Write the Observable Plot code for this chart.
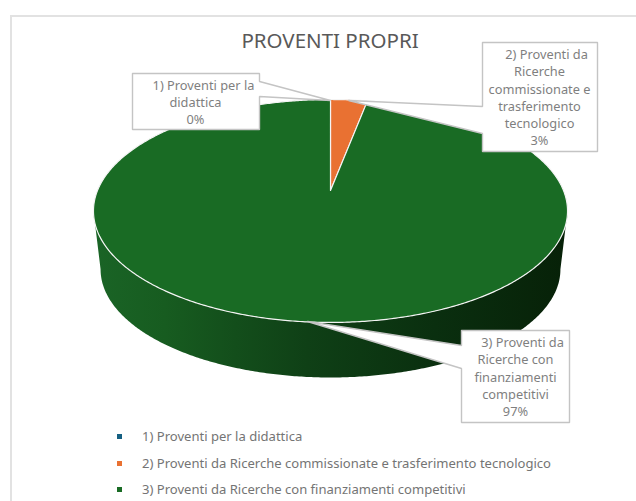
<!DOCTYPE html>
<html><head><meta charset="utf-8">
<script src="https://cdn.jsdelivr.net/npm/d3@7"></script>
<script src="https://cdn.jsdelivr.net/npm/@observablehq/plot@0.6"></script>
<style>
html,body{margin:0;padding:0;background:#fff;width:636px;height:501px;overflow:hidden}
#frame{position:absolute;left:10px;top:15px;right:-4px;bottom:-4px;border:2px solid #e2e2e2}
#wrap{position:relative;width:636px;height:501px;font-family:"Noto Sans",sans-serif}
#title{position:absolute;left:0;width:660px;top:27px;text-align:center;font-size:20.5px;line-height:26px;color:#595959}
#chart{position:absolute;left:0;top:40px}
#legend{position:absolute;left:0;top:426px;font-size:13.05px;color:#747474}
.row{position:absolute;left:117px;height:18px;line-height:18px;white-space:nowrap}
.row i{position:absolute;left:0;top:7px;width:5px;height:5px}
.row span{position:absolute;left:25px;top:0}
</style></head><body>
<div id="wrap"><div id="frame"></div>
<div id="title">PROVENTI PROPRI</div>
<div id="chart"></div><div id="legend"></div></div>
<script>
// Data
const categories = ["1) Proventi per la didattica","2) Proventi da Ricerche commissionate e trasferimento tecnologico","3) Proventi da Ricerche con finanziamenti competitivi"];
const values = [0, 3, 97];
const colors = ["#156082", "#e97132", "#196b24"];
const wrappedLabels = [
  ["1) Proventi per la","didattica"],
  ["2) Proventi da","Ricerche","commissionate e","trasferimento","tecnologico"],
  ["3) Proventi da","Ricerche con","finanziamenti","competitivi"]
];

// Layout of the perspective pie and its callouts (picture units)
const pie3d = {cx:330, cy:190, tx:233, ty:107.7, k:0.1837, drop:59, shrink:0.97};
const callouts = [
  {box:[132,73,259,129], wedge:[81,96], tip:[330,100], textX:195, firstIndent:8, firstY:85},
  {box:[482,42,597,151], wedge:[106,133], tip:[348,100], textX:539, firstIndent:7, firstY:54.5},
  {box:[461,330,569,422], wedge:[345,368], tip:[307,321], textX:515, firstIndent:7, firstY:342.5}
];
const lineStep = 17.2;

function rim(t, lower=false){ // t = clockwise angle from the top, in radians
  const u = Math.sin(t), v = Math.cos(t), d = 1 + pie3d.k*v, s = lower ? pie3d.shrink : 1;
  return {x: pie3d.cx + s*pie3d.tx*u/d, y: pie3d.cy - s*pie3d.ty*v/d + (lower ? pie3d.drop : 0)};
}
const total = d3.sum(values);
const tau = 2*Math.PI;
const step = tau/720;
function arcRange(a0,a1,lower=false){
  const n = Math.max(1, Math.ceil((a1-a0)/step));
  return d3.range(n+1).map(i => rim(a0+(a1-a0)*i/n, lower));
}
// slices
let cum = 0;
const slices = values.flatMap((v,i) => {
  const a0 = cum/total*tau; cum += v; const a1 = cum/total*tau;
  if (v === 0) return [];
  return [{x:pie3d.cx,y:pie3d.cy,i}, ...arcRange(a0,a1).map(p=>({...p,i})), {x:pie3d.cx,y:pie3d.cy,i}];
});
// side wall: front half between the silhouette points of the top and bottom rims
const tA = Math.acos(-pie3d.k), tB = tau - tA;
const wall = [...arcRange(tA,tB), ...arcRange(tA,tB,true).reverse()];

// callouts shapes
const boxes = callouts.flatMap((c,id) => {
  const [x0,y0,x1,y1] = c.box;
  const leftSide = c.tip[0] < x0;
  const pts = leftSide
    ? [[x0,y0],[x1,y0],[x1,y1],[x0,y1],[x0,c.wedge[1]],c.tip,[x0,c.wedge[0]],[x0,y0]]
    : [[x0,y0],[x1,y0],[x1,c.wedge[0]],c.tip,[x1,c.wedge[1]],[x1,y1],[x0,y1],[x0,y0]];
  return pts.map(p=>({x:p[0],y:p[1],id}));
});
const labelLines = callouts.flatMap((c,id) => {
  const lines = [...wrappedLabels[id], `${values[id]}%`];
  return lines.map((text,i)=>({text, x:c.textX+(i===0?c.firstIndent:0), y:c.firstY+i*lineStep}));
});

const sideGradient = () => {
  const svg = d3.create("svg:defs");
  const g = svg.append("linearGradient").attr("id","sideGrad").attr("gradientUnits","userSpaceOnUse")
    .attr("x1",93).attr("x2",567).attr("y1",0).attr("y2",0);
  [[0,"#1a6426"],[0.15,"#175c20"],[0.45,"#0f4016"],[0.72,"#0a2f0f"],[1,"#072108"]]
    .forEach(([o,c])=>g.append("stop").attr("offset",o).attr("stop-color",c));
  return svg.node();
};

const plot = Plot.plot({
  width:636, height:386, margin:0,
  x:{domain:[0,636], range:[0,636], axis:null},
  y:{domain:[40,426], range:[0,386], axis:null},
  style:{background:"transparent"},
  marks:[
    sideGradient,
    Plot.line(wall,{x:"x",y:"y",fill:"url(#sideGrad)",stroke:"none",curve:"linear"}),
    Plot.line(slices,{x:"x",y:"y",z:"i",fill:d=>colors[d.i],stroke:"#f4f4f4",strokeWidth:1.2,curve:"linear",strokeLinejoin:"round"}),
    Plot.line(boxes,{x:"x",y:"y",z:"id",fill:"#fff",stroke:"#c4c4c4",strokeWidth:1.4,curve:"linear",strokeLinejoin:"miter"}),
    Plot.text(labelLines,{x:"x",y:"y",text:"text",fill:"#7f7f7f",fontSize:12.8,fontFamily:'"Noto Sans",sans-serif',textAnchor:"middle"})
  ]
});
document.getElementById("chart").append(plot);

const legend = d3.select("#legend");
const legendYs = [1,27.5,54];
categories.forEach((c,i)=>{
  const r = legend.append("div").attr("class","row").style("top",legendYs[i]+"px");
  r.append("i").style("background",colors[i]);
  r.append("span").text(c);
});
</script></body></html>
